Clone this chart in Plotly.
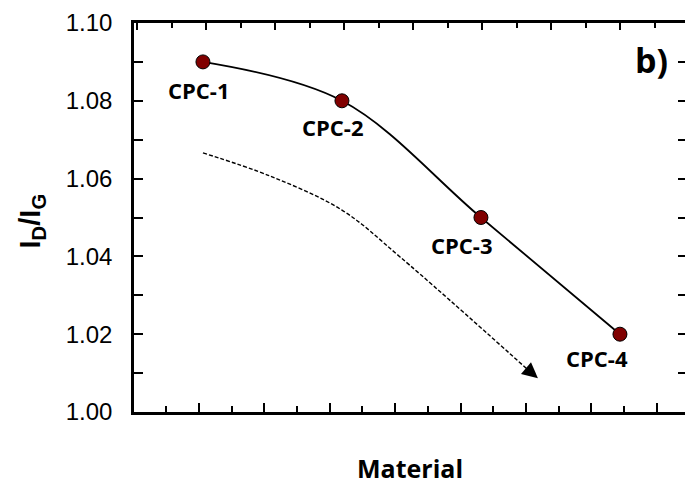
import plotly.graph_objects as go

# ---- data ----
materials = ["CPC-1", "CPC-2", "CPC-3", "CPC-4"]
id_ig = [1.09, 1.08, 1.05, 1.02]
positions = [1, 2, 3, 4]

# dashed trend guide
trend_x = [1.0, 1.48, 2.0, 2.42, 3.33]
trend_y = [1.0666, 1.0607, 1.0519, 1.0398, 1.0111]
arrow_tip = (3.41, 1.0087)

y_ticks = [1.00, 1.02, 1.04, 1.06, 1.08, 1.10]
y_ticktext = ["1.00", "1.02", "1.04", "1.06", "1.08", "1.10"]

label_shift = [(-4, -28), (-9, -26), (-19, -27), (-23, -24)]

fig = go.Figure()

fig.add_trace(go.Scatter(
    x=trend_x, y=trend_y, mode="lines",
    line=dict(color="black", width=1.4, dash="4px,2px", shape="spline"),
    showlegend=False, hoverinfo="skip"))

fig.add_trace(go.Scatter(
    x=positions, y=id_ig, mode="lines+markers",
    line=dict(color="black", width=1.8, shape="spline"),
    marker=dict(size=14, color="#800000", line=dict(color="black", width=1)),
    showlegend=False))

# dummy trace for mirror axes
fig.add_trace(go.Scatter(x=[], y=[], xaxis="x2", yaxis="y2", showlegend=False))

for xv, yv, lab, (dx, dy) in zip(positions, id_ig, materials, label_shift):
    fig.add_annotation(x=xv, y=yv, text="<b>" + lab + "</b>", showarrow=False,
                       xshift=dx, yshift=dy,
                       font=dict(family="Open Sans", size=22, color="black"))

fig.add_annotation(x=arrow_tip[0], y=arrow_tip[1], ax=trend_x[-1], ay=trend_y[-1],
                   xref="x", yref="y", axref="x", ayref="y", text="",
                   showarrow=True, arrowhead=2, arrowsize=2.4, arrowwidth=1.3,
                   arrowcolor="black")

fig.add_annotation(xref="paper", yref="paper", x=0.94, y=0.905,
                   xanchor="center", yanchor="middle",
                   text="<b>b)</b>", showarrow=False,
                   font=dict(family="Open Sans", size=34, color="black"))

fig.add_annotation(xref="paper", yref="paper", x=0.5, y=-0.143,
                   xanchor="center", yanchor="middle",
                   text="<b>Material</b>", showarrow=False,
                   font=dict(family="Open Sans", size=25, color="black"))

fig.add_annotation(xref="paper", yref="paper", x=-0.185, y=0.49, textangle=-90,
                   xanchor="center", yanchor="middle",
                   text="<b>I<sub>D</sub>/I<sub>G</sub></b>", showarrow=False,
                   font=dict(family="Liberation Sans", size=29, color="black"))

fig.update_layout(
    width=685, height=494,
    margin=dict(l=134, r=0, t=23, b=82),
    paper_bgcolor="white", plot_bgcolor="white",
    xaxis=dict(range=[0.504, 4.468], showline=True, linecolor="black", linewidth=2.5,
               ticks="inside", ticklen=9, tickwidth=2, tickcolor="black",
               tick0=0.971, dtick=0.4705, showticklabels=False, showgrid=False,
               zeroline=False,
               minor=dict(ticks="inside", ticklen=6, tickwidth=2, tickcolor="black",
                          dtick=0.23525, tick0=0.971, showgrid=False)),
    yaxis=dict(range=[1.0, 1.10], showline=True, linecolor="black", linewidth=2.5,
               ticks="inside", ticklen=9, tickwidth=2, tickcolor="black",
               tickvals=y_ticks, ticktext=y_ticktext, ticklabelstandoff=14,
               tickfont=dict(family="Liberation Sans", size=24, color="black"),
               showgrid=False, zeroline=False,
               minor=dict(ticks="inside", ticklen=9, tickwidth=2, tickcolor="black",
                          dtick=0.01, tick0=1.0, showgrid=False)),
    xaxis2=dict(overlaying="x", side="top", anchor="y", range=[0, 551],
                showline=True, linecolor="black", linewidth=2.5,
                ticks="inside", ticklen=7, tickwidth=2, tickcolor="black",
                tick0=72, dtick=69, showticklabels=False, showgrid=False, zeroline=False,
                minor=dict(ticks="inside", ticklen=5, tickwidth=2, tickcolor="black",
                           dtick=34.5, tick0=72, showgrid=False)),
    yaxis2=dict(overlaying="y", side="right", anchor="x", range=[1.0, 1.10],
                showline=False, ticks="inside", ticklen=7, tickwidth=2,
                tickcolor="black", tickvals=y_ticks, showticklabels=False,
                showgrid=False, zeroline=False,
                minor=dict(ticks="inside", ticklen=7, tickwidth=2, tickcolor="black",
                           dtick=0.01, tick0=1.0, showgrid=False)),
)

fig.write_html("out.html")
